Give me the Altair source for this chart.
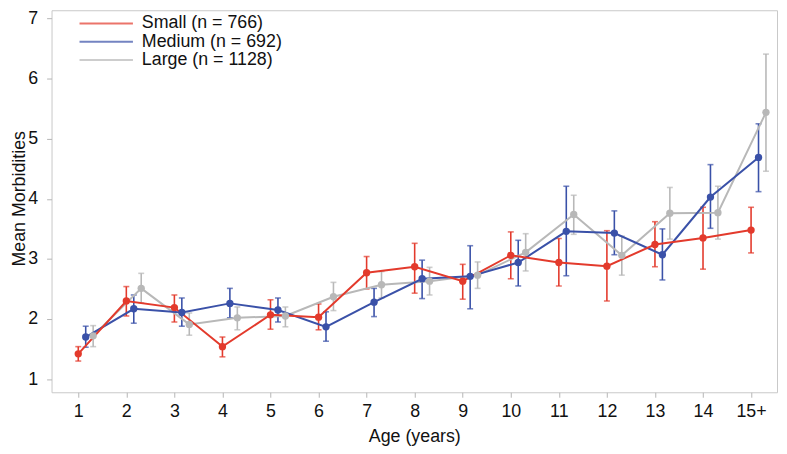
import json
import altair as alt
import pandas as pd

# ---- data ----
ages = list(range(1, 16))
age_labels = ["1", "2", "3", "4", "5", "6", "7", "8", "9", "10", "11", "12", "13", "14", "15+"]
series = ["Small (n = 766)", "Medium (n = 692)", "Large (n = 1128)"]
colors = ["#e33a2c", "#3a51a8", "#b8b8b8"]

small_mean = [1.42, 2.30, 2.19, 1.54, 2.07, 2.03, 2.77, 2.87, 2.63, 3.06, 2.94, 2.88, 3.24, 3.35, 3.48]
small_lo = [1.30, 2.05, 1.95, 1.37, 1.83, 1.82, 2.50, 2.43, 2.33, 2.67, 2.55, 2.30, 2.87, 2.83, 3.10]
small_hi = [1.54, 2.54, 2.40, 1.70, 2.32, 2.25, 3.04, 3.26, 2.91, 3.45, 3.34, 3.47, 3.62, 3.86, 3.86]

medium_mean = [1.70, 2.17, 2.11, 2.26, 2.15, 1.87, 2.28, 2.67, 2.71, 2.94, 3.46, 3.43, 3.07, 4.03, 4.69]
medium_lo = [1.53, 1.93, 1.88, 2.02, 1.95, 1.63, 2.04, 2.34, 2.17, 2.55, 2.72, 3.07, 2.65, 3.51, 4.12]
medium_hi = [1.88, 2.40, 2.35, 2.51, 2.35, 2.12, 2.51, 2.98, 3.22, 3.31, 4.21, 3.80, 3.50, 4.57, 5.25]

large_mean = [1.72, 2.51, 1.91, 2.02, 2.05, 2.37, 2.57, 2.63, 2.73, 3.11, 3.74, 3.06, 3.76, 3.77, 5.44]
large_lo = [1.54, 2.27, 1.73, 1.82, 1.87, 2.14, 2.35, 2.40, 2.51, 2.80, 3.41, 2.73, 3.33, 3.33, 4.46]
large_hi = [1.89, 2.76, 2.10, 2.20, 2.20, 2.61, 2.79, 2.86, 2.95, 3.42, 4.06, 3.38, 4.19, 4.21, 6.41]

# dodge of each series along x (in age units)
dodge = {series[0]: 0.0, series[1]: 0.155, series[2]: 0.31}

rows = []
for name, m, lo, hi in [
    (series[2], large_mean, large_lo, large_hi),
    (series[1], medium_mean, medium_lo, medium_hi),
    (series[0], small_mean, small_lo, small_hi),
]:
    for a, mv, l, h in zip(ages, m, lo, hi):
        rows.append({"series": name, "age": a, "xpos": a + dodge[name], "mean": mv, "lo": l, "hi": h})
df = pd.DataFrame(rows)

FONT = "Liberation Sans"
label_expr = "%s[datum.value - 1]" % json.dumps(age_labels)

x_enc = alt.X(
    "xpos:Q",
    scale=alt.Scale(domain=[0.444, 15.54], nice=False, zero=False),
    axis=alt.Axis(
        values=ages, labelExpr=label_expr, title="Age (years)",
        labelBaseline="alphabetic", labelPadding=19,
        titleBaseline="alphabetic", titleY=50,
    ),
)
y_scale = alt.Scale(domain=[0.78, 7.14], nice=False, zero=False)
y_axis = alt.Axis(
    values=list(range(1, 8)), title="Mean Morbidities", labelPadding=9,
    titleAngle=270, titleX=-27.5, titleY=190, titleBaseline="alphabetic", titleAlign="center",
)
color_enc = alt.Color(
    "series:N",
    scale=alt.Scale(domain=series, range=colors),
    sort=series,
    legend=alt.Legend(
        title=None, orient="none", legendX=46.25, legendY=4.3, padding=0,
        symbolType="M-4,0L4,0", symbolSize=182, symbolStrokeWidth=2,
        labelFontSize=18, labelOffset=27, rowPadding=0.5, labelFont=FONT,
        labelColor="#111",
    ),
)

base = alt.Chart(df).encode(x=x_enc, color=color_enc, detail="series:N")

bars = base.mark_rule(strokeWidth=1.6).encode(
    y=alt.Y("lo:Q", scale=y_scale, axis=y_axis), y2="hi:Q"
)
cap_lo = base.mark_tick(orient="horizontal", size=6, thickness=1.6).encode(
    y=alt.Y("lo:Q", scale=y_scale, axis=y_axis)
)
cap_hi = base.mark_tick(orient="horizontal", size=6, thickness=1.6).encode(
    y=alt.Y("hi:Q", scale=y_scale, axis=y_axis)
)
lines = base.mark_line(strokeWidth=2).encode(
    y=alt.Y("mean:Q", scale=y_scale, axis=y_axis)
)
points = base.mark_point(filled=True, size=55, opacity=1).encode(
    y=alt.Y("mean:Q", scale=y_scale, axis=y_axis)
)

chart = (
    alt.layer(bars, cap_lo, cap_hi, lines, points)
    .properties(
        width=733, height=386, autosize="none",
        padding={"left": 44, "top": 0, "right": 2, "bottom": 52},
    )
    .configure_view(stroke="#c8c8c8", strokeWidth=1)
    .configure_axis(
        grid=False, domain=False, tickSize=5, tickColor="#b5b5b5", tickWidth=1,
        labelFont=FONT, labelFontSize=18, labelColor="#111",
        titleFont=FONT, titleFontSize=18, titleFontWeight="normal", titleColor="#111",
    )
    .configure_legend(labelFont=FONT)
)

chart.save("out.html", embed_options={"renderer": "svg", "actions": False})
